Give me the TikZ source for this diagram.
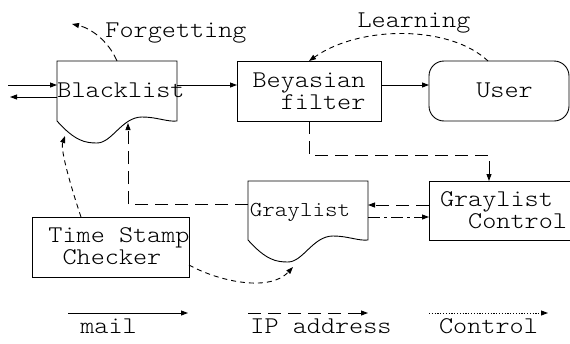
\documentclass[tikz,border=0pt]{standalone}
\usepackage{fontspec}
\setmainfont{Latin Modern Mono Light}[FakeStretch=1.12]
\usetikzlibrary{arrows.meta,calc}
\newcommand\docoutline[1]{%
  \begin{scope}[shift={(#1.south west)}]
    \draw[shapeline] (0,0) -- (#1.north west) -- (#1.north east) -- (#1.south east)
      .. controls (110,1) and (100,-4) .. (85,-4)
      .. controls (65,-4) and (55,22) .. (40,22)
      .. controls (28,22) and (18,20) .. (0,0) -- cycle;
  \end{scope}}
\begin{document}
\begin{tikzpicture}[x=1pt,y=-1pt,
  every node/.style={inner sep=0pt,outer sep=0pt},
  lbl/.style={font=\fontsize{24}{22}\selectfont},
  smalllbl/.style={font=\fontsize{21.3}{22}\selectfont},
  shapeline/.style={line width=0.9pt},
  box/.style={draw,line width=0.9pt},
  docnode/.style={inner sep=0pt},
  tip/.style={-{Triangle[length=7pt,width=5pt]}},
  mailline/.style={line width=0.9pt,tip},
  ipline/.style={mailline,dash pattern=on 13pt off 7pt},
  ctlline/.style={mailline,dash pattern=on 5pt off 4pt},
  fgline/.style={mailline,dash pattern=on 7pt off 4pt},
  dotline/.style={mailline,dash pattern=on 1.2pt off 1.6pt},
  dashdot/.style={mailline,dash pattern=on 12pt off 4pt on 3pt off 4pt},
]
\useasboundingbox (0,0) rectangle (570,343);
\clip (0,0) rectangle (570,343);

% nodes
\node[docnode,minimum width=120pt,minimum height=60pt] (bl) at (117,91) {};
\docoutline{bl}
\node[lbl,anchor=base] (blt) at (121,97) {Blacklist};

\node[box,lbl,align=right,minimum width=144pt,minimum height=60pt] (bf) at (309,91) {Beyasian\\filter};

\node[box,rounded corners=15pt,minimum width=140pt,minimum height=60pt] (user) at (499,91) {};
\node[lbl,anchor=base] (usert) at (504.5,97) {User};

\node[box,lbl,align=right,minimum width=149pt,minimum height=59pt] (gc) at (503.5,210.5) {Graylist\phantom{x}\\Control};

\node[docnode,minimum width=120pt,minimum height=59pt] (gl) at (308,210.5) {};
\docoutline{gl}
\node[smalllbl,anchor=base] (glt) at (300,216) {Graylist};

\node[box,minimum width=157pt,minimum height=60pt] (tsc) at (110.5,247) {};
\node[lbl,align=center] (tsct) at (119,246) {Time Stamp\\Checker\phantom{x}};

\node[lbl,anchor=base] (fgt) at (176,37) {Forgetting};
\node[lbl,anchor=base] (lnt) at (414,27) {Learning};

% free ends
\coordinate (in1) at (8,85);
\coordinate (out1) at (10,97);
\coordinate (fg) at (72,24);
\coordinate (blip) at (128,123);
\coordinate (bltip) at (65,136);
\coordinate (gltip) at (293,267);

% connectors
\draw[mailline] (in1) -- ([yshift=6pt]bl.west);
\draw[mailline] ([yshift=-6pt]bl.west) -- (out1);
\draw[mailline] ([yshift=6pt]bl.east) -- ([yshift=6pt]bf.west);
\draw[mailline] ([yshift=6pt]bf.east) -- ([yshift=6pt]user.west);
\draw[fgline] (bl.north) .. controls (108,40) and (90,28) .. (fg);
\draw[ctlline] ([xshift=-11pt]user.north) .. controls (450,25) and (360,25) .. (bf.north);
\draw[ipline] (bf.south) -- ++(0,34) -| ([xshift=-14.5pt]gc.north);
\draw[ipline] ([yshift=5.5pt]gc.west) -- ([yshift=5.5pt]gl.east);
\draw[dashdot] ([yshift=-6.5pt]gl.east) -- ([yshift=-6.5pt]gc.west);
\draw[ipline] ([yshift=6.5pt]gl.west) -| (blip);
\draw[ctlline] ([xshift=-29.5pt]tsc.north) .. controls (72,190) and (60,150) .. (bltip);
\draw[ctlline] ([yshift=-18pt]tsc.east) .. controls (220,282) and (270,292) .. (gltip);

% legend
\coordinate (m1) at (68,313);
\coordinate (m2) at (188,313);
\coordinate (i1) at (248,313);
\coordinate (i2) at (368,313);
\coordinate (c1) at (429,313);
\coordinate (c2) at (548,313);
\draw[mailline] (m1) -- (m2);
\draw[ipline] (i1) -- (i2);
\draw[dotline] (c1) -- (c2);
\node[lbl,anchor=base] (mt) at (108.5,333) {mail};
\node[lbl,anchor=base] (it) at (321,333) {IP address};
\node[lbl,anchor=base] (ct) at (488.5,333) {Control};
\end{tikzpicture}
\end{document}
